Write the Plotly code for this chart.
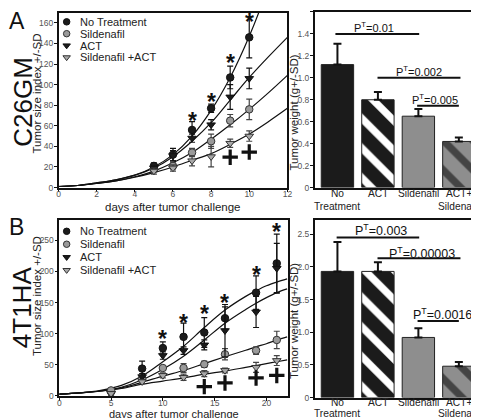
import plotly.graph_objects as go

W, H = 479, 418
FONT = "Liberation Sans, Arial, sans-serif"

# ---------------- Panel A (C26GM) growth data ----------------
A_days = [5, 6, 7, 8, 9, 10]
A_notx = [21, 32, 56, 77, 107, 146]
A_notx_sd = [3, 6, 8, 4, 11, 20]
A_sild = [18, 21, 34, 45, 65, 76]
A_sild_sd = [2, 3, 4, 7, 6, 10]
A_act = [19, 31, 48, 61, 88, 106]
A_act_sd = [2, 5, 4, 5, 12, 10]
A_combo = [16, 19, 26, 30, 43, 50]
A_combo_sd = [3, 3, 5, 10, 4, 5]

A_fit_x = [0, 1, 2, 3, 4, 5, 6, 7, 8, 9, 10, 11, 12]
A_fit_notx = [1, 2, 4.5, 7.5, 12, 20, 32, 50, 75, 107, 147, 195, 250]
A_fit_act = [1, 2, 4.5, 7.5, 12, 19, 30, 45, 63, 85, 107, 127, 146]
A_fit_sild = [1, 2, 4, 6.5, 10.5, 16, 24, 34, 47, 61, 76, 92, 109]
A_fit_combo = [1, 2, 4, 6.5, 10, 14.5, 20, 26.5, 33, 42, 52, 64, 77]

A_star_days = [7, 8, 9, 10]
A_star_y = [70, 88, 126, 166]
A_plus_days = [9, 10]
A_plus_y = [29.5, 34.5]

# ---------------- Panel B (4T1HA) growth data ----------------
B_days = [5, 8, 10, 12, 14, 16, 19, 21]
B_notx = [7, 44, 77, 95, 102, 125, 166, 213]
B_notx_sd = [3, 12, 10, 22, 24, 18, 27, 47]
B_act = [4, 31, 65, 73, 82, 105, 135, 205]
B_act_sd = [2, 5, 6, 6, 8, 42, 25, 40]
B_sild = [9, 28, 45, 45, 51, 67, 73, 90]
B_sild_sd = [3, 4, 4, 7, 5, 9, 6, 14]
B_combo = [4, 23, 33, 30, 36, 41, 46, 57]
B_combo_sd = [3, 3, 4, 5, 5, 4, 8, 8]

B_fit_x = [0, 2, 4, 6, 8, 10, 12, 14, 16, 18, 19, 20, 21, 22]
B_fit_notx = [3, 5, 9, 17, 32, 55, 80, 110, 138, 160, 169, 177, 183, 188]
B_fit_act = [3, 5, 8, 14, 26, 43, 64, 90, 117, 139, 149, 158, 166, 172]
B_fit_sild = [3, 5, 8, 13, 22, 32, 41, 52, 63, 73.5, 79, 84, 90, 95]
B_fit_combo = [3, 5, 8, 12, 19, 24, 29, 35, 40, 46, 49, 52, 55, 58]

B_star_days = [10, 12, 14, 16, 19, 21]
B_star_y = [100, 125, 139, 157, 202, 271]
B_plus_days = [14, 16, 19, 21]
B_plus_y = [15, 21, 29, 33]

# ---------------- Tumor weights ----------------
bar_cats = ["No Treatment", "ACT", "Sildenafil", "ACT+ Sildenafil"]
bar_label_line1 = ["No", "ACT", "Sildenafil", "ACT+"]
bar_label_line2 = ["Treatment", "", "", "Sildenafil"]
A_weight = [1.12, 0.80, 0.65, 0.42]
A_weight_sd = [0.19, 0.07, 0.065, 0.035]
B_weight = [1.93, 1.93, 0.92, 0.48]
B_weight_sd = [0.45, 0.14, 0.14, 0.065]

A_pvals = ["0.01", "0.002", "0.005"]
B_pvals = ["0.003", "0.00003", "0.0016"]

legend_names = ["No Treatment", "Sildenafil", "ACT", "Sildenafil +ACT"]

# ---------------- styles ----------------
BLACK = "#1b1b1b"
GRAY = "#9a9a9a"
series_style = {
    "notx": dict(symbol="circle", color=BLACK, line="#111", err="#111"),
    "sild": dict(symbol="circle", color=GRAY, line="#333", err="#444"),
    "act": dict(symbol="triangle-down", color=BLACK, line="#111", err="#111"),
    "combo": dict(symbol="triangle-down", color="#a8a8a8", line="#333", err="#444"),
}

fig = go.Figure()


def add_growth(xa, ya, days, series, fitx, fits, stars_x, stars_y, plus_x, plus_y):
    for fy in fits:
        fig.add_trace(go.Scatter(x=fitx, y=fy, mode="lines", line=dict(color="#111", width=1.2, shape="spline"),
                                 xaxis=xa, yaxis=ya, showlegend=False, hoverinfo="skip"))
    for key, (vals, sds) in series.items():
        st = series_style[key]
        fig.add_trace(go.Scatter(
            x=days, y=vals, mode="markers", xaxis=xa, yaxis=ya, showlegend=False,
            marker=dict(symbol=st["symbol"], size=7.5, color=st["color"], line=dict(color=st["line"], width=1)),
            error_y=dict(type="data", array=sds, color=st["err"], thickness=1.2, width=3),
            cliponaxis=False))
    fig.add_trace(go.Scatter(x=plus_x, y=plus_y, mode="markers", xaxis=xa, yaxis=ya, showlegend=False,
                             marker=dict(symbol="cross-thin-open", size=11, color="#111",
                                         line=dict(color="#111", width=3.2))))
    for sx, sy in zip(stars_x, stars_y):
        fig.add_annotation(x=sx, y=sy, xref=xa, yref=ya, text="<b>*</b>", showarrow=False,
                           xanchor="center", yanchor="middle",
                           font=dict(size=23, color="#111", family=FONT), yshift=-5)


add_growth("x", "y", A_days,
           {"notx": (A_notx, A_notx_sd), "sild": (A_sild, A_sild_sd), "act": (A_act, A_act_sd), "combo": (A_combo, A_combo_sd)},
           A_fit_x, [A_fit_notx, A_fit_act, A_fit_sild, A_fit_combo],
           A_star_days, A_star_y, A_plus_days, A_plus_y)
add_growth("x3", "y3", B_days,
           {"notx": (B_notx, B_notx_sd), "sild": (B_sild, B_sild_sd), "act": (B_act, B_act_sd), "combo": (B_combo, B_combo_sd)},
           B_fit_x, [B_fit_notx, B_fit_act, B_fit_sild, B_fit_combo],
           B_star_days, B_star_y, B_plus_days, B_plus_y)

bar_colors = [BLACK, BLACK, "#8e8e8e", "#8e8e8e"]
bar_shapes = ["", "\\", "", "\\"]


def add_bars(xa, ya, vals, sds):
    fig.add_trace(go.Bar(
        x=bar_cats, y=vals, xaxis=xa, yaxis=ya, width=0.8, showlegend=False,
        marker=dict(color=bar_colors, line=dict(color="#222", width=1),
                    pattern=dict(shape=bar_shapes, fgcolor="#ffffff", fgopacity=1, bgcolor=bar_colors,
                                 size=21, solidity=0.35)),
        error_y=dict(type="data", symmetric=False, array=sds, arrayminus=[0] * len(sds),
                     color="#111", thickness=2, width=4)))


add_bars("x2", "y2", A_weight, A_weight_sd)
add_bars("x4", "y4", B_weight, B_weight_sd)

# category labels under the bar charts (two lines each)
for xa, y1, y2 in (("x2", 187.5, 201), ("x4", 399.5, 410.5)):
    for cat, l1, l2 in zip(bar_cats, bar_label_line1, bar_label_line2):
        for line, yy in ((l1, y1), (l2, y2)):
            if line:
                fig.add_annotation(x=cat, y=1 - yy / H, xref=xa, yref="paper", text=line, showarrow=False,
                                   xanchor="center", yanchor="middle", borderpad=0,
                                   font=dict(size=10.2, color="#222", family=FONT))

# significance bars (category index coordinates)
sigA = [(-0.05, 2.02, 1.40, 0.91, 1.465, A_pvals[0], 11),
        (0.99, 3.04, 1.00, 2.01, 1.065, A_pvals[1], 11),
        (1.97, 3.00, 0.745, 2.41, 0.805, A_pvals[2], 11)]
sigB = [(-0.02, 2.02, 2.45, 1.07, 2.56, B_pvals[0], 12.5),
        (0.99, 3.04, 2.13, 2.09, 2.21, B_pvals[1], 12.5),
        (1.98, 3.00, 1.17, 2.59, 1.285, B_pvals[2], 12.5)]
for xa, ya, sig in (("x2", "y2", sigA), ("x4", "y4", sigB)):
    for x0, x1, yl, tx, ty, p, fs in sig:
        fig.add_shape(type="line", xref=xa, yref=ya, x0=x0, x1=x1, y0=yl, y1=yl,
                      line=dict(color="#111", width=2))
        fig.add_annotation(x=tx, y=ty, xref=xa, yref=ya, showarrow=False, xanchor="center", yanchor="middle",
                           text="P<sup>T</sup>=" + p, font=dict(size=fs, color="#111", family=FONT))

# ---------------- axes ----------------
tickfont = dict(size=8.5, color="#555", family=FONT)
common = dict(showline=True, linecolor="#111", linewidth=1.5, mirror=True, ticks="outside", ticklen=3,
              tickwidth=1, tickcolor="#111", showgrid=False, zeroline=False, tickfont=tickfont)
xnum = {**common, "ticklabelstandoff": -5}
ynum = {**common, "ticklabelstandoff": -1}
cat_axis = {**common, "ticks": "", "showticklabels": False}

fig.update_layout(
    width=W, height=H, autosize=False, margin=dict(l=0, r=0, t=0, b=0),
    paper_bgcolor="white", plot_bgcolor="rgba(0,0,0,0)", font=dict(family=FONT),
    xaxis=dict(domain=[49.3 / W, 281.5 / W], anchor="y", range=[0, 12], tickvals=[0, 2, 4, 6, 8, 10, 12], **xnum),
    yaxis=dict(domain=[1 - 181.7 / H, 1 - 4.7 / H], anchor="x", range=[0, 170],
               tickvals=[0, 20, 40, 60, 80, 100, 120, 140, 160], **ynum),
    xaxis2=dict(domain=[309.3 / W, 478.5 / W], anchor="y2", type="category", range=[-0.56, 3.56], **cat_axis),
    yaxis2=dict(domain=[1 - 181.7 / H, 1 - 4 / H], anchor="x2", range=[0, 1.6],
                tickvals=[0, 0.2, 0.4, 0.6, 0.8, 1.0, 1.2, 1.4, 1.6],
                ticktext=["0", "0.2", "0.4", "0.6", "0.8", "1.0", "1.2", "1.4", "1.6"], **ynum),
    xaxis3=dict(domain=[50 / W, 282.3 / W], anchor="y3", range=[0, 22.1], tickvals=[0, 5, 10, 15, 20], **xnum),
    yaxis3=dict(domain=[1 - 392.7 / H, 1 - 215 / H], anchor="x3", range=[0, 282],
                tickvals=[0, 50, 100, 150, 200, 250], **ynum),
    xaxis4=dict(domain=[309.3 / W, 478.5 / W], anchor="y4", type="category", range=[-0.56, 3.56], **cat_axis),
    yaxis4=dict(domain=[1 - 394.3 / H, 1 - 215 / H], anchor="x4", range=[0, 2.71],
                tickvals=[0, 0.5, 1.0, 1.5, 2.0, 2.5], ticktext=["0", "0.5", "1.0", "1.5", "2.0", "2.5"], **ynum),
    xaxis5=dict(domain=[0, 1], anchor="y5", range=[0, W], visible=False, fixedrange=True),
    yaxis5=dict(domain=[0, 1], anchor="x5", range=[H, 0], visible=False, fixedrange=True),
)

# ---------------- legend (manual, compact) ----------------
leg_keys = ["notx", "sild", "act", "combo"]
for top, gap in ((14, 12), (226, 13.1)):
    ys = [top + i * gap for i in range(4)]
    for k, yy, name in zip(leg_keys, ys, legend_names):
        st = series_style[k]
        fig.add_trace(go.Scatter(x=[57.5], y=[yy], mode="markers", xaxis="x5", yaxis="y5", showlegend=False,
                                 marker=dict(symbol=st["symbol"], size=6.5, color=st["color"],
                                             line=dict(color=st["line"], width=1)), hoverinfo="skip"))
        fig.add_annotation(x=69 / W, y=1 - yy / H, xref="paper", yref="paper", text=name, showarrow=False,
                           xanchor="left", yanchor="middle", font=dict(size=11, color="#222", family=FONT))


# ---------------- text labels ----------------
def txt(x, y, s, size, angle=0, color="#222"):
    fig.add_annotation(x=x / W, y=1 - y / H, xref="paper", yref="paper", text=s, showarrow=False,
                       xanchor="center", yanchor="middle", textangle=angle,
                       font=dict(size=size, color=color, family=FONT))


txt(7, 13, "A", 23, color="#111")
txt(7, 222, "B", 23, color="#111")
txt(13, 95, "C26GM", 26, angle=-90, color="#111")
txt(13, 303, "4T1HA", 26, angle=-90, color="#111")
txt(27, 87, "Tumor size index +/-SD", 11.5, angle=-90)
txt(27, 292, "Tumor size index +/-SD", 11.5, angle=-90)
txt(288, 106, "Tumor weight (g+/-SD)", 11.5, angle=-90)
txt(288, 317, "Tumor weight (g+/-SD)", 11.5, angle=-90)
txt(165.5, 201, "days after tumor challenge", 11.5)
txt(166.5, 410.5, "days after tumor challenge", 11)

fig.write_html("out.html")
